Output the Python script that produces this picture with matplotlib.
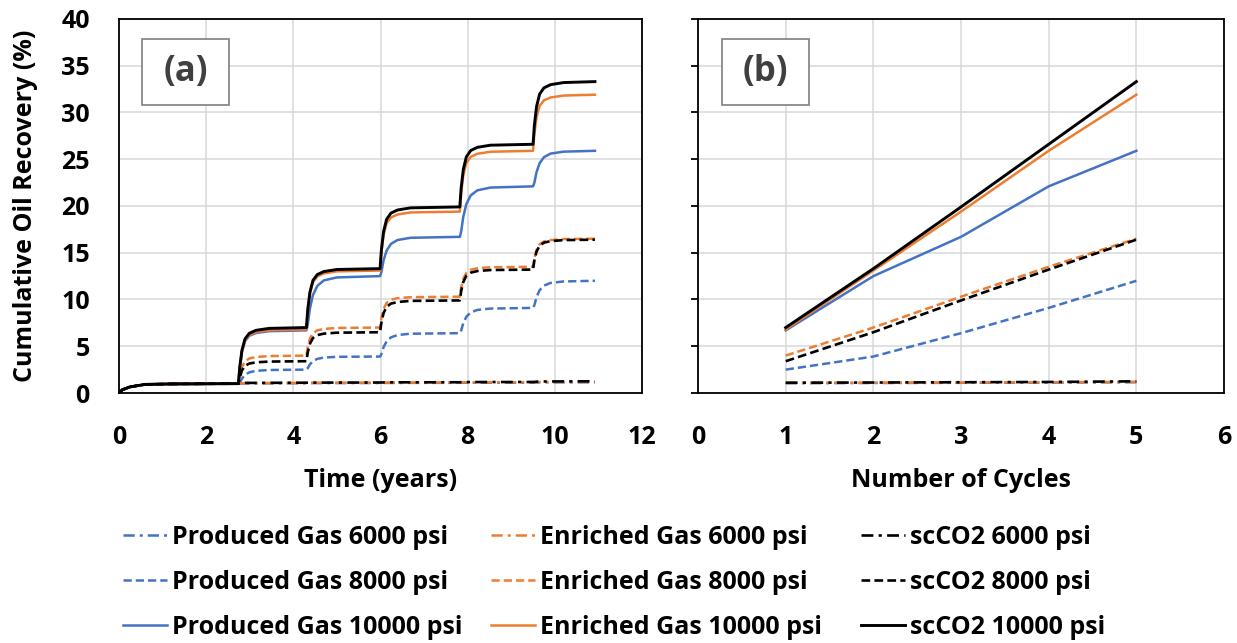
import matplotlib
matplotlib.use("Agg")
import matplotlib.pyplot as plt
from matplotlib.patches import Rectangle

plt.rcParams['font.family'] = ['Open Sans', 'DejaVu Sans']
plt.rcParams['font.weight'] = 'bold'

# ---------------- data ----------------
# time axis (years) shared by the 8000 / 10000 psi curves
time = [0, 0.08, 0.25, 0.6, 1.2, 2.74,
        2.77, 2.82, 2.89, 2.99, 3.14, 3.44, 4.30,
        4.33, 4.38, 4.45, 4.55, 4.70, 5.00, 5.99,
        6.02, 6.07, 6.14, 6.24, 6.39, 6.69, 7.82,
        7.85, 7.90, 7.97, 8.07, 8.22, 8.52, 9.50,
        9.53, 9.58, 9.65, 9.75, 9.90, 10.20, 10.92]

# primary depletion before the first huff-n-puff cycle
primary = [0, 0.35, 0.65, 0.92, 0.97, 1.0]

sc_10000 = primary + [2.73, 4.56, 5.78, 6.39, 6.70, 6.91, 7.0,
                      8.89, 10.78, 12.04, 12.67, 12.99, 13.21, 13.3,
                      15.28, 17.26, 18.58, 19.24, 19.57, 19.80, 19.9,
                      21.91, 23.92, 25.26, 25.93, 26.27, 26.50, 26.6,
                      28.61, 30.62, 31.96, 32.63, 32.97, 33.20, 33.3]
en_10000 = primary + [2.67, 4.44, 5.62, 6.21, 6.51, 6.71, 6.8,
                      8.69, 10.58, 11.84, 12.47, 12.79, 13.01, 13.1,
                      14.99, 16.88, 18.14, 18.77, 19.09, 19.31, 19.4,
                      21.35, 23.30, 24.60, 25.25, 25.58, 25.80, 25.9,
                      27.70, 29.50, 30.70, 31.30, 31.60, 31.81, 31.9]
pg_10000 = primary + [2.64, 4.38, 5.54, 6.12, 6.41, 6.61, 6.7,
                      7.28, 9.02, 10.47, 11.46, 12.04, 12.36, 12.5,
                      12.92, 14.18, 15.23, 15.94, 16.36, 16.60, 16.7,
                      17.24, 18.86, 20.21, 21.13, 21.67, 21.97, 22.1,
                      22.48, 23.62, 24.57, 25.22, 25.60, 25.81, 25.9]
en_8000 = primary + [1.83, 2.76, 3.38, 3.69, 3.85, 3.95, 4.0,
                     4.90, 5.80, 6.40, 6.70, 6.85, 6.96, 7.0,
                     7.99, 8.98, 9.64, 9.97, 10.14, 10.25, 10.3,
                     11.26, 12.22, 12.86, 13.18, 13.34, 13.45, 13.5,
                     14.40, 15.30, 15.90, 16.20, 16.35, 16.46, 16.5]
sc_8000 = primary + [1.65, 2.40, 2.90, 3.15, 3.28, 3.36, 3.4,
                     4.33, 5.26, 5.88, 6.19, 6.35, 6.45, 6.5,
                     7.52, 8.54, 9.22, 9.56, 9.73, 9.85, 9.9,
                     10.89, 11.88, 12.54, 12.87, 13.04, 13.15, 13.2,
                     14.16, 15.12, 15.76, 16.08, 16.24, 16.35, 16.4]
pg_8000 = primary + [1.06, 1.54, 1.94, 2.21, 2.37, 2.46, 2.5,
                     2.64, 3.06, 3.41, 3.65, 3.79, 3.87, 3.9,
                     4.15, 4.90, 5.53, 5.95, 6.20, 6.34, 6.4,
                     6.67, 7.48, 8.16, 8.61, 8.88, 9.03, 9.1,
                     9.39, 10.26, 10.99, 11.48, 11.77, 11.93, 12.0]

# 6000 psi curves barely move, so they use a coarser time axis
time_6000 = [0, 0.08, 0.25, 0.6, 1.2, 2.74, 2.89, 4.30, 4.45, 5.99,
             6.14, 7.82, 7.97, 9.50, 9.65, 10.92]
sc_6000 = [0, 0.35, 0.65, 0.92, 0.97, 1.0, 1.08, 1.1, 1.11, 1.12,
           1.14, 1.15, 1.17, 1.18, 1.23, 1.25]
en_6000 = [0, 0.35, 0.65, 0.92, 0.97, 1.0, 1.06, 1.08, 1.09, 1.1,
           1.11, 1.12, 1.14, 1.15, 1.18, 1.2]
pg_6000 = [0, 0.35, 0.65, 0.92, 0.97, 1.0, 1.03, 1.05, 1.06, 1.07,
           1.08, 1.09, 1.1, 1.11, 1.14, 1.15]

# recovery at the end of each cycle
cycles = [1, 2, 3, 4, 5]
cyc_pg_6000 = [1.05, 1.07, 1.09, 1.11, 1.15]
cyc_pg_8000 = [2.5, 3.9, 6.4, 9.1, 12.0]
cyc_pg_10000 = [6.7, 12.5, 16.7, 22.1, 25.9]
cyc_en_6000 = [1.08, 1.1, 1.12, 1.15, 1.2]
cyc_en_8000 = [4.0, 7.0, 10.3, 13.5, 16.5]
cyc_en_10000 = [6.8, 13.1, 19.4, 25.9, 31.9]
cyc_sc_6000 = [1.1, 1.12, 1.15, 1.18, 1.25]
cyc_sc_8000 = [3.4, 6.5, 9.9, 13.2, 16.4]
cyc_sc_10000 = [7.0, 13.3, 19.9, 26.6, 33.3]

labels = ['Produced Gas 6000 psi', 'Produced Gas 8000 psi', 'Produced Gas 10000 psi',
          'Enriched Gas 6000 psi', 'Enriched Gas 8000 psi', 'Enriched Gas 10000 psi',
          'scCO2 6000 psi', 'scCO2 8000 psi', 'scCO2 10000 psi']

# ---------------- styles ----------------
blue, orange, black = '#4472C4', '#ED7D31', '#000000'
ls_6000 = (0, (4.5, 2.0, 1.2, 2.0))
ls_8000 = (0, (3.3, 1.6))
ls_10000 = '-'
colors = [blue] * 3 + [orange] * 3 + [black] * 3
styles = [ls_6000, ls_8000, ls_10000] * 3
widths = [1.8, 1.8, 1.8, 1.8, 1.8, 1.8, 1.9, 1.9, 2.1]

series_a = [(time_6000, pg_6000), (time, pg_8000), (time, pg_10000),
            (time_6000, en_6000), (time, en_8000), (time, en_10000),
            (time_6000, sc_6000), (time, sc_8000), (time, sc_10000)]
series_b = [cyc_pg_6000, cyc_pg_8000, cyc_pg_10000,
            cyc_en_6000, cyc_en_8000, cyc_en_10000,
            cyc_sc_6000, cyc_sc_8000, cyc_sc_10000]

fs_tick = 18
fs_lab = 18
fs_leg = 18
fig = plt.figure(figsize=(12.37, 6.43), dpi=100)
ax1 = fig.add_axes([0.0962, 0.3888, 0.4228, 0.5817])
ax2 = fig.add_axes([0.5643, 0.3888, 0.4252, 0.5817])

handles = []
for (t, v), c, s, w, lab in zip(series_a, colors, styles, widths, labels):
    h, = ax1.plot(t, v, color=c, linestyle=s, linewidth=w, label=lab)
    handles.append(h)
for v, c, s, w in zip(series_b, colors, styles, widths):
    ax2.plot(cycles, v, color=c, linestyle=s, linewidth=w)

for ax in (ax1, ax2):
    ax.set_ylim(0, 40)
    ax.set_yticks(range(0, 41, 5))
    ax.grid(True, color='#d9d9d9', linewidth=1.1)
    ax.set_axisbelow(True)
    for sp in ax.spines.values():
        sp.set_color('black')
        sp.set_linewidth(1.3)
    ax.tick_params(labelsize=fs_tick, pad=23, length=0)

ax1.set_xlim(0, 12)
ax1.set_xticks(range(0, 13, 2))
ax1.tick_params(axis='y', pad=21)
ax1.set_xlabel('Time (years)', fontsize=fs_lab, fontweight='bold')
ax1.xaxis.set_label_coords(0.5, -0.2)
ax1.set_ylabel('Cumulative Oil Recovery (%)', fontsize=fs_lab, fontweight='bold')
ax1.yaxis.set_label_coords(-0.155, 0.5)

ax2.set_xlim(0, 6)
ax2.set_xticks(range(0, 7))
ax2.tick_params(axis='y', labelleft=False, length=5, direction='out', width=1.3)
ax2.set_xlabel('Number of Cycles', fontsize=fs_lab, fontweight='bold')
ax2.xaxis.set_label_coords(0.5, -0.2)

# panel tags
for ax, tag, x0 in ((ax1, '(a)', 0.044), (ax2, '(b)', 0.0456)):
    ax.add_patch(Rectangle((x0, 0.770), 0.166, 0.177, transform=ax.transAxes,
                           facecolor='white', edgecolor='#7f7f7f', linewidth=1.2, zorder=5))
    ax.text(x0 + 0.083, 0.8585, tag, transform=ax.transAxes, ha='center', va='center',
            fontsize=25, fontweight='bold', color='#404040', zorder=6)

# one legend per gas, laid out as three columns under the panels
for i, x_px in enumerate((123, 491, 861)):
    fig.legend(handles=handles[3 * i:3 * i + 3], loc='upper left',
               bbox_to_anchor=(x_px / 1237, 0.184), frameon=False, fontsize=fs_leg,
               handlelength=1.75, handletextpad=0.2, labelspacing=0.8,
               borderpad=0, borderaxespad=0)

fig.savefig('out.png', dpi=100)
